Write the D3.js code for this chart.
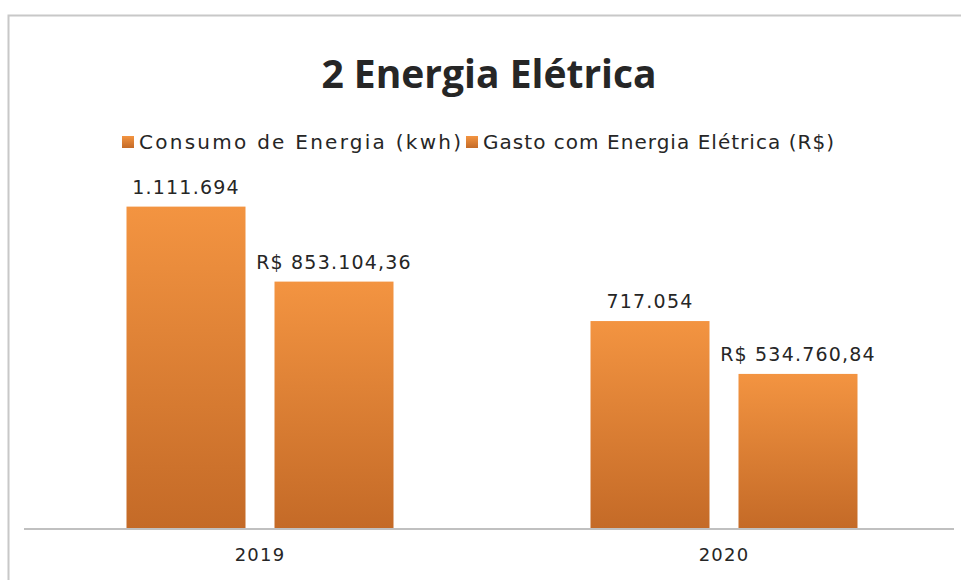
<!DOCTYPE html>
<html lang="pt">
<head>
<meta charset="utf-8">
<title>2 Energia Elétrica</title>
<script src="https://cdn.jsdelivr.net/npm/d3@7"></script>
<style>
  body { margin: 0; background: #fff; }
  text { fill: #262626; }
</style>
</head>
<body>
<div id="chart"></div>
<script>
// data
var anos = ["2019", "2020"];
var series = ["Consumo de Energia (kwh)", "Gasto com Energia Elétrica (R$)"];
var consumo = [1111694, 717054];
var gasto = [853104.36, 534760.84];
var rotulosConsumo = ["1.111.694", "717.054"];
var rotulosGasto = ["R$ 853.104,36", "R$ 534.760,84"];

var width = 961, height = 580;
var base = 529;

var svg = d3.select("#chart").append("svg")
    .attr("width", width)
    .attr("height", height);

var grad = svg.append("defs").append("linearGradient")
    .attr("id", "barra")
    .attr("x1", 0).attr("y1", 0).attr("x2", 0).attr("y2", 1);
grad.append("stop").attr("offset", "0%").attr("stop-color", "#F39441");
grad.append("stop").attr("offset", "100%").attr("stop-color", "#C46A27");

// chart border
svg.append("rect")
    .attr("x", 8.5).attr("y", 15.5)
    .attr("width", width + 10).attr("height", height)
    .attr("fill", "none")
    .attr("stroke", "#c8c8c8")
    .attr("stroke-width", 2);

var x0 = d3.scaleBand().domain(anos).range([28, 956]);
var y = d3.scaleLinear().domain([0, 1200000]).range([base, base - 348]);

var dados = anos.map(function(a, i) {
  return [
    { ano: a, s: series[0], v: consumo[i], rot: rotulosConsumo[i] },
    { ano: a, s: series[1], v: gasto[i], rot: rotulosGasto[i] }
  ];
});

var bw = 119, gap = 29;
function bx(d) {
  var c = x0(d.ano) + x0.bandwidth() / 2;
  return d.s === series[0] ? c - gap / 2 - bw : c + gap / 2;
}

var grupos = svg.append("g").selectAll("g")
    .data(dados)
  .enter().append("g");

grupos.selectAll("rect")
    .data(function(d) { return d; })
  .enter().append("rect")
    .attr("x", bx)
    .attr("y", function(d) { return y(d.v); })
    .attr("width", bw)
    .attr("height", function(d) { return y(0) - y(d.v); })
    .attr("fill", "url(#barra)");

grupos.selectAll("text")
    .data(function(d) { return d; })
  .enter().append("text")
    .attr("x", function(d) { return bx(d) + bw / 2; })
    .attr("y", function(d) { return y(d.v) - 13; })
    .attr("text-anchor", "middle")
    .style("font-family", "DejaVu Sans, Verdana, sans-serif")
    .style("font-size", "19px")
    .style("letter-spacing", "1.2px")
    .text(function(d) { return d.rot; });

// axis
var eixo = svg.append("g")
    .attr("transform", "translate(0," + base + ")")
    .call(d3.axisBottom(x0).tickSize(0).tickPadding(19));
eixo.select(".domain").remove();
eixo.append("line")
    .attr("x1", 24).attr("x2", 954)
    .attr("stroke", "#c0c0c0").attr("stroke-width", 2);
eixo.selectAll("text")
    .style("font-family", "DejaVu Sans, Verdana, sans-serif")
    .style("font-size", "18px")
    .style("letter-spacing", "1.2px")
    .attr("fill", "#262626");

// title
svg.append("text")
    .attr("x", 489).attr("y", 88)
    .attr("text-anchor", "middle")
    .style("font-family", "Open Sans, sans-serif")
    .style("font-weight", "bold")
    .style("font-size", "39px")
    .text("2 Energia Elétrica");

// legend
var legX = [122, 466];
var legW = [322, 351];
var leg = svg.append("g").selectAll("g")
    .data(series)
  .enter().append("g")
    .attr("transform", function(d, i) { return "translate(" + legX[i] + ",136)"; });
leg.append("rect")
    .attr("width", 12).attr("height", 12)
    .attr("fill", "url(#barra)");
leg.append("text")
    .attr("x", 17).attr("y", 13)
    .attr("textLength", function(d, i) { return legW[i]; })
    .attr("lengthAdjust", "spacing")
    .style("font-family", "DejaVu Sans, Verdana, sans-serif")
    .style("font-size", "20px")
    .text(function(d) { return d; });
</script>
</body>
</html>
